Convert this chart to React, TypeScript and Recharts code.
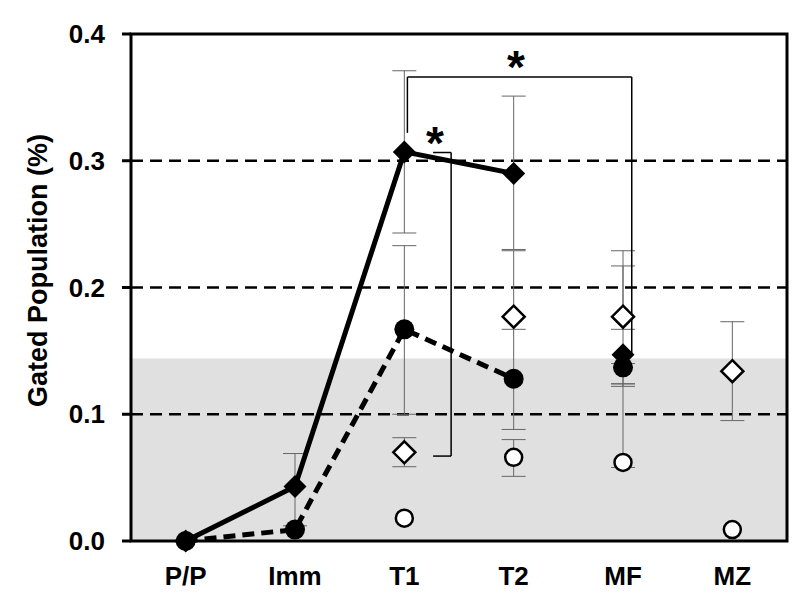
import {
  ComposedChart,
  Line,
  XAxis,
  YAxis,
  ErrorBar,
  ReferenceArea,
  ReferenceLine,
  ReferenceDot,
} from "recharts";

// Categories on the x axis
const categories = ["P/P", "Imm", "T1", "T2", "MF", "MZ"];
// the two filled series are joined by a line over the first four categories only
const linked = 4;

// Series values
const filledDiamond = [0, 0.043, 0.307, 0.29, 0.147, null];
const filledDiamondLow = [null, 0.012, 0.243, 0.23, 0.124, null];
const filledDiamondHigh = [null, 0.069, 0.371, 0.351, 0.217, null];

const filledCircle = [0, 0.009, 0.167, 0.128, 0.137, null];
const filledCircleLow = [null, null, 0.1, 0.088, 0.122, null];
const filledCircleHigh = [null, null, 0.233, 0.167, 0.14, null];

const openDiamond = [null, null, 0.07, 0.177, 0.177, 0.134];
const openDiamondLow = [null, null, 0.0586, 0.177, 0.167, 0.095];
const openDiamondHigh = [null, null, 0.0815, 0.229, 0.229, 0.173];

const openCircle = [null, null, 0.018, 0.066, 0.062, 0.009];
const openCircleLow = [null, null, null, 0.051, 0.058, null];
const openCircleHigh = [null, null, null, 0.08, 0.124, null];

const yTicks = [0, 0.1, 0.2, 0.3, 0.4];
const dashedLevels = [0.1, 0.2, 0.3];
const shadedTop = 0.144;

// significance brackets (x in category index units)
const bracketWide = [
  { x: 2.028, y: 0.322 },
  { x: 2.028, y: 0.366 },
  { x: 4.08, y: 0.366 },
  { x: 4.08, y: 0.147 },
];
const bracketNarrow = [
  { x: 2.263, y: 0.3065 },
  { x: 2.428, y: 0.3065 },
  { x: 2.428, y: 0.067 },
  { x: 2.263, y: 0.067 },
];
const stars = [
  { x: 3.02, y: 0.382 },
  { x: 2.28, y: 0.322 },
];

const FONT = "'Liberation Sans', Arial, sans-serif";

const err = (v: number | null, lo: number | null, hi: number | null) =>
  v == null || lo == null || hi == null ? null : [v - lo, hi - v];

const rows = categories.map((name, i) => ({
  i,
  name,
  fd: filledDiamond[i],
  fdLine: i < linked ? filledDiamond[i] : null,
  fdPt: i >= linked ? filledDiamond[i] : null,
  fdErr: err(filledDiamond[i], filledDiamondLow[i], filledDiamondHigh[i]),
  fc: filledCircle[i],
  fcLine: i < linked ? filledCircle[i] : null,
  fcPt: i >= linked ? filledCircle[i] : null,
  fcErr: err(filledCircle[i], filledCircleLow[i], filledCircleHigh[i]),
  od: openDiamond[i],
  odErr: err(openDiamond[i], openDiamondLow[i], openDiamondHigh[i]),
  oc: openCircle[i],
  ocErr: err(openCircle[i], openCircleLow[i], openCircleHigh[i]),
}));

const ok = (p: any) => Number.isFinite(p.cx) && Number.isFinite(p.cy);

const diamond = (fill: string, r: number, sw: number) => (p: any) => {
  if (!ok(p)) return <g key={`e-${p.index}`} />;
  const { cx, cy } = p;
  return (
    <polygon
      key={`d-${p.index}`}
      points={`${cx},${cy - r} ${cx + r},${cy} ${cx},${cy + r} ${cx - r},${cy}`}
      fill={fill}
      stroke="#000"
      strokeWidth={sw}
      strokeLinejoin="miter"
    />
  );
};

const circle = (fill: string, r: number, sw: number) => (p: any) => {
  if (!ok(p)) return <g key={`e-${p.index}`} />;
  return (
    <circle key={`c-${p.index}`} cx={p.cx} cy={p.cy} r={r} fill={fill} stroke="#000" strokeWidth={sw} />
  );
};

const Star = (p: any) => (
  <text
    x={p.cx}
    y={p.cy + 26}
    textAnchor="middle"
    fontFamily={FONT}
    fontWeight="bold"
    fontSize={46}
    fill="#000"
  >
    *
  </text>
);

const YLabel = (p: any) => {
  const vb = p.viewBox || { x: 0, y: 34, width: 131, height: 507 };
  const cx = vb.x + 38;
  const cy = vb.y + vb.height / 2 - 17;
  return (
    <text
      x={cx}
      y={cy}
      transform={`rotate(-90, ${cx}, ${cy})`}
      textAnchor="middle"
      dominantBaseline="central"
      style={{ fontFamily: FONT, fontWeight: "bold", fontSize: 27 }}
      fill="#000"
    >
      Gated Population (%)
    </text>
  );
};

const segs = (pts: { x: number; y: number }[]) =>
  pts.slice(1).map((p, k) => [pts[k], p]);

const errStyle = { stroke: "#666", strokeWidth: 1, width: 12 };

export default function App() {
  return (
    <div style={{ position: "fixed", left: 0, top: 0, width: 800, height: 593, background: "#fff" }}>
      <ComposedChart
        width={800}
        height={593}
        data={rows}
        margin={{ top: 34, right: 13, left: 0, bottom: 0 }}
      >
        <ReferenceArea y1={0} y2={shadedTop} fill="#e0e0e0" fillOpacity={1} stroke="none" />
        {dashedLevels.map((v) => (
          <ReferenceLine key={v} y={v} stroke="#000" strokeWidth={2.5} strokeDasharray="12 7" />
        ))}
        <XAxis
          type="number"
          dataKey="i"
          domain={[-0.5, 5.5]}
          ticks={[0, 1, 2, 3, 4, 5]}
          tickFormatter={(v: number) => categories[v]}
          axisLine={false}
          tickLine={false}
          tickSize={0}
          tickMargin={26}
          height={52}
          tick={{ fill: "#000", fontSize: 26, fontWeight: "bold", fontFamily: FONT }}
        />
        <YAxis
          type="number"
          domain={[0, 0.4]}
          ticks={yTicks}
          tickFormatter={(v: number) => v.toFixed(1)}
          axisLine={false}
          tickLine={{ stroke: "#000", strokeWidth: 3 }}
          tickSize={9}
          tickMargin={17}
          width={131}
          tick={{ fill: "#000", fontSize: 26, fontWeight: "bold", fontFamily: FONT }}
          label={<YLabel />}
        />

        {/* error bars first, so markers sit on top */}
        <Line dataKey="fd" stroke="none" dot={false} activeDot={false} isAnimationActive={false}>
          <ErrorBar dataKey="fdErr" direction="y" {...errStyle} />
        </Line>
        <Line dataKey="fc" stroke="none" dot={false} activeDot={false} isAnimationActive={false}>
          <ErrorBar dataKey="fcErr" direction="y" {...errStyle} />
        </Line>
        <Line dataKey="od" stroke="none" dot={false} activeDot={false} isAnimationActive={false}>
          <ErrorBar dataKey="odErr" direction="y" {...errStyle} />
        </Line>
        <Line dataKey="oc" stroke="none" dot={false} activeDot={false} isAnimationActive={false}>
          <ErrorBar dataKey="ocErr" direction="y" {...errStyle} />
        </Line>

        <Line dataKey="oc" stroke="none" dot={circle("#fff", 8.5, 2.5)} activeDot={false} isAnimationActive={false} />
        <Line dataKey="od" stroke="none" dot={diamond("#fff", 11, 2.5)} activeDot={false} isAnimationActive={false} />
        <Line
          dataKey="fcLine"
          stroke="#000"
          strokeWidth={5}
          strokeDasharray="12 7"
          dot={circle("#000", 10, 0)}
          activeDot={false}
          isAnimationActive={false}
        />
        <Line
          dataKey="fdLine"
          stroke="#000"
          strokeWidth={5}
          dot={diamond("#000", 11.5, 0)}
          activeDot={false}
          isAnimationActive={false}
        />
        <Line dataKey="fdPt" stroke="none" dot={diamond("#000", 11.5, 0)} activeDot={false} isAnimationActive={false} />
        <Line dataKey="fcPt" stroke="none" dot={circle("#000", 10, 0)} activeDot={false} isAnimationActive={false} />

        <ReferenceArea y1={0} y2={0.4} fill="none" stroke="#000" strokeWidth={3} />

        {[...segs(bracketWide), ...segs(bracketNarrow)].map((s, k) => (
          <ReferenceLine key={`b-${k}`} segment={s} stroke="#000" strokeWidth={1.5} />
        ))}
        {stars.map((s, k) => (
          <ReferenceDot key={`s-${k}`} x={s.x} y={s.y} r={0} shape={Star} />
        ))}
      </ComposedChart>
    </div>
  );
}
